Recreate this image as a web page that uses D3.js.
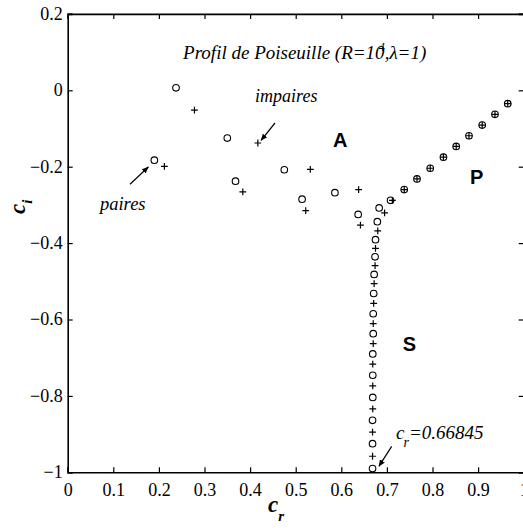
<!DOCTYPE html>
<html>
<head>
<meta charset="utf-8">
<script src="https://cdn.jsdelivr.net/npm/d3@7"></script>
<style>
  body { margin: 0; background: #fff; }
  svg { display: block; }
  text { fill: #000; }
  .serif { font-family: 'Liberation Serif', 'Times New Roman', Times, serif; }
  .sans { font-family: 'Liberation Sans', Arial, Helvetica, sans-serif; }
</style>
</head>
<body>
<div id="chart"></div>
<script>
// modes paires (o) and impaires (+), c = cr + i ci
const evenCr = [0.2375, 0.350, 0.190, 0.475, 0.368, 0.586, 0.514, 0.637, 0.683,
  0.708, 0.738, 0.766, 0.795, 0.824, 0.852, 0.880, 0.909, 0.937, 0.965,
  0.679, 0.675, 0.674, 0.672, 0.671, 0.670, 0.670, 0.669, 0.669, 0.669, 0.6685, 0.6685, 0.6685]
const evenCi = [0.0065, -0.125, -0.183, -0.208, -0.238, -0.268, -0.285, -0.325, -0.308,
  -0.288, -0.260, -0.232, -0.204, -0.175, -0.147, -0.119, -0.091, -0.063, -0.035,
  -0.344, -0.391, -0.436, -0.482, -0.532, -0.585, -0.637, -0.690, -0.746, -0.804, -0.864, -0.925, -0.990]

const oddCr = [0.278, 0.417, 0.212, 0.532, 0.384, 0.638, 0.522, 0.642, 0.695,
  0.712, 0.738, 0.766, 0.795, 0.824, 0.852, 0.880, 0.909, 0.937, 0.965,
  0.680, 0.675, 0.674, 0.672, 0.671, 0.670, 0.670, 0.669, 0.669, 0.669, 0.6685, 0.6685]
const oddCi = [-0.052, -0.138, -0.199, -0.207, -0.266, -0.260, -0.315, -0.353, -0.321,
  -0.288, -0.260, -0.232, -0.204, -0.175, -0.147, -0.119, -0.091, -0.063, -0.035,
  -0.368, -0.414, -0.459, -0.506, -0.558, -0.611, -0.663, -0.717, -0.774, -0.834, -0.895, -0.958]

const xTicks = [0, 0.1, 0.2, 0.3, 0.4, 0.5, 0.6, 0.7, 0.8, 0.9, 1]
const yTicks = [0.2, 0, -0.2, -0.4, -0.6, -0.8, -1]

// arrows [from, to] in data units
const arrows = [
  [[0.4546, -0.0856], [0.4241, -0.1309]],
  [[0.1366, -0.246], [0.1768, -0.2008]],
  [[0.7105, -0.932], [0.6827, -0.984]]
]

const W = 523, H = 528
const x = d3.scaleLinear().domain([0, 1]).range([67.7, 523.7])
const y = d3.scaleLinear().domain([-1, 0.2]).range([472.3, 13.9])

const svg = d3.select('#chart').append('svg')
  .attr('width', W).attr('height', H)

// axes, ticks inward, mirrored on top / right
const fmt = d => d === 0 ? '0' : String(d).replace('-', '\u2212')
const gx = svg.append('g').attr('transform', `translate(0,${y(-1)})`)
  .call(d3.axisBottom(x).tickValues(xTicks).tickSize(-5).tickPadding(11).tickFormat(fmt))
const gy = svg.append('g').attr('transform', `translate(${x(0)},0)`)
  .call(d3.axisLeft(y).tickValues(yTicks).tickSize(-5).tickPadding(5).tickFormat(fmt))
const gt = svg.append('g').attr('transform', `translate(0,${y(0.2)})`)
  .call(d3.axisTop(x).tickValues(xTicks).tickSize(-5).tickFormat(''))
const gr = svg.append('g').attr('transform', `translate(${x(1)},0)`)
  .call(d3.axisRight(y).tickValues(yTicks).tickSize(-5).tickFormat(''))

for (const g of [gx, gy, gt, gr]) {
  g.attr('font-family', null).attr('font-size', null)
  g.select('.domain').attr('stroke', '#000').attr('stroke-width', 1.6)
  g.selectAll('.tick line').attr('stroke', '#000').attr('stroke-width', 1.2)
  g.selectAll('.tick text').attr('class', 'serif').style('font-size', '18px').attr('fill', '#000')
}
gx.selectAll('.tick text').attr('dy', '0.72em')
gy.selectAll('.tick text').attr('dy', '0.3em')

// markers
const pts = svg.append('g')
pts.selectAll('circle').data(evenCr).join('circle')
  .attr('cx', d => x(d))
  .attr('cy', (d, i) => y(evenCi[i]))
  .attr('r', 3.3)
  .attr('fill', 'none').attr('stroke', '#000').attr('stroke-width', 1.1)

pts.selectAll('path.plus').data(oddCr).join('path')
  .attr('class', 'plus')
  .attr('d', (d, i) => {
    const cx = x(d), cy = y(oddCi[i]), s = 3.4
    return `M${cx - s},${cy}H${cx + s}M${cx},${cy - s}V${cy + s}`
  })
  .attr('stroke', '#000').attr('stroke-width', 1.2).attr('fill', 'none')

// arrows
svg.append('defs').append('marker')
  .attr('id', 'head').attr('viewBox', '0 0 10 10')
  .attr('refX', 9).attr('refY', 5)
  .attr('markerWidth', 7).attr('markerHeight', 7)
  .attr('markerUnits', 'userSpaceOnUse')
  .attr('orient', 'auto')
  .append('path').attr('d', 'M0,1L10,5L0,9Z').attr('fill', '#000')

svg.selectAll('line.arrow').data(arrows).join('line')
  .attr('class', 'arrow')
  .attr('x1', d => x(d[0][0])).attr('y1', d => y(d[0][1]))
  .attr('x2', d => x(d[1][0])).attr('y2', d => y(d[1][1]))
  .attr('stroke', '#000').attr('stroke-width', 1.2)
  .attr('marker-end', 'url(#head)')

// texts
const title = svg.append('text').attr('class', 'serif')
  .attr('x', x(0.253)).attr('y', y(0.082))
  .style('font-style', 'italic').style('font-size', '19px')
title.append('tspan').text('Profil de Poiseuille (R=10')
title.append('tspan').style('font-size', '12px').attr('dx', -6).attr('dy', -8).text('4')
title.append('tspan').attr('dy', 8).text(',\u03bb=1)')

svg.append('text').attr('class', 'serif').attr('x', x(0.411)).attr('y', y(-0.0306))
  .style('font-style', 'italic').style('font-size', '18px')
  .text('impaires')
svg.append('text').attr('class', 'serif').attr('x', x(0.0708)).attr('y', y(-0.314))
  .style('font-style', 'italic').style('font-size', '18.5px')
  .text('paires')

const big = [['A', 0.582, -0.149], ['P', 0.882, -0.246], ['S', 0.735, -0.683]]
svg.selectAll('text.big').data(big).join('text')
  .attr('class', 'big sans')
  .attr('x', d => x(d[1])).attr('y', d => y(d[2]))
  .style('font-weight', 'bold').style('font-size', '20px')
  .text(d => d[0])

const crLab = svg.append('text').attr('class', 'serif')
  .attr('x', x(0.72)).attr('y', y(-0.914))
  .style('font-style', 'italic').style('font-size', '19px')
crLab.append('tspan').text('c')
crLab.append('tspan').style('font-size', '14px').attr('dx', -1).attr('dy', 8).text('r')
crLab.append('tspan').attr('dy', -8).text('=0.66845')

// axis labels
const xl = svg.append('text').attr('class', 'serif')
  .attr('x', 268).attr('y', 512)
  .style('font-style', 'italic').style('font-weight', 'bold').style('font-size', '23px')
xl.append('tspan').text('c')
xl.append('tspan').style('font-size', '15px').attr('dy', 9).text('r')

const yl = svg.append('text').attr('class', 'serif')
  .attr('transform', 'translate(25,214) rotate(-90)')
  .style('font-style', 'italic').style('font-weight', 'bold').style('font-size', '23px')
yl.append('tspan').text('c')
yl.append('tspan').style('font-size', '15px').attr('dy', 7).text('i')
</script>
</body>
</html>
